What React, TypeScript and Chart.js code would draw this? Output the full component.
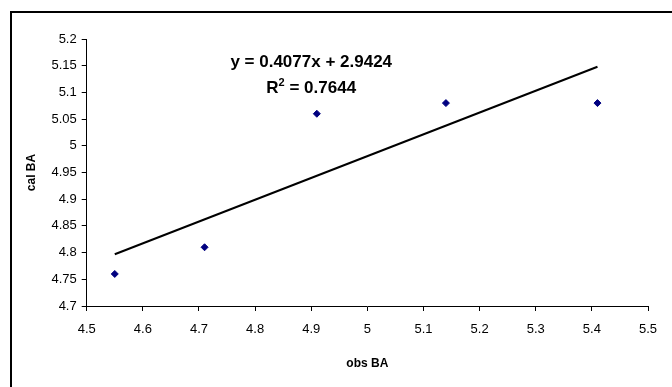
import React, { useEffect, useRef } from "react";
import { Chart, registerables } from "chart.js";

Chart.register(...registerables);

const obsBA = [4.55, 4.71, 4.91, 5.14, 5.41];
const calBA = [4.76, 4.81, 5.06, 5.08, 5.08];
const trendX = [4.55, 5.41];
const trendY = [4.797, 5.148];
const equationText = "y = 0.4077x + 2.9424";
const r2Value = " = 0.7644";
const xTitle = "obs BA";
const yTitle = "cal BA";

const FONT = "'Liberation Sans', Arial, sans-serif";

const annotationPlugin = {
  id: "eqnLabels",
  afterDraw(chart: any) {
    const { ctx, scales } = chart;
    const cx = scales.x.getPixelForValue(4.9);
    const y1 = scales.y.getPixelForValue(5.157);
    const y2 = scales.y.getPixelForValue(5.107);
    ctx.save();
    ctx.fillStyle = "#000";
    ctx.textBaseline = "middle";
    ctx.font = `bold 17px ${FONT}`;
    ctx.textAlign = "center";
    ctx.fillText(equationText, cx, y1);
    const wR = ctx.measureText("R").width;
    const wRest = ctx.measureText(r2Value).width;
    ctx.font = `bold 11px ${FONT}`;
    const w2 = ctx.measureText("2").width;
    const total = wR + w2 + wRest;
    let x = cx - total / 2;
    ctx.textAlign = "left";
    ctx.font = `bold 17px ${FONT}`;
    ctx.fillText("R", x, y2);
    x += wR;
    ctx.font = `bold 11px ${FONT}`;
    ctx.fillText("2", x, y2 - 6);
    x += w2;
    ctx.font = `bold 17px ${FONT}`;
    ctx.fillText(r2Value, x, y2);
    ctx.restore();
  },
};

export default function App() {
  const ref = useRef<HTMLCanvasElement | null>(null);
  useEffect(() => {
    if (!ref.current) return;
    const chart = new Chart(ref.current, {
      type: "scatter",
      data: {
        datasets: [
          {
            label: "data",
            data: obsBA.map((x, i) => ({ x, y: calBA[i] })),
            pointStyle: "rectRot",
            pointRadius: 3.5,
            backgroundColor: "#000080",
            borderColor: "#000080",
            borderWidth: 1,
          },
          {
            type: "line",
            label: "trend",
            data: trendX.map((x, i) => ({ x, y: trendY[i] })),
            borderColor: "#000",
            borderWidth: 2,
            pointRadius: 0,
            fill: false,
          } as any,
        ],
      },
      options: {
        responsive: false,
        animation: false,
        layout: { padding: { left: 24, right: 24, top: 39, bottom: 8 } },
        plugins: { legend: { display: false }, tooltip: { enabled: false } },
        scales: {
          x: {
            type: "linear",
            min: 4.5,
            max: 5.5,
            ticks: {
              stepSize: 0.1,
              color: "#000",
              padding: 11,
              font: { family: FONT, size: 13 },
              callback: (v: any) => String(Number(Number(v).toFixed(2))),
            },
            grid: {
              drawOnChartArea: false,
              color: "#000",
              tickLength: 5,
            },
            border: { color: "#000", width: 1 },
            title: {
              display: true,
              text: xTitle,
              color: "#000",
              font: { family: FONT, size: 12, weight: "bold" },
              padding: { top: 8, bottom: 8 },
            },
          },
          y: {
            type: "linear",
            min: 4.7,
            max: 5.2,
            ticks: {
              stepSize: 0.05,
              color: "#000",
              padding: 5,
              font: { family: FONT, size: 13 },
              callback: (v: any) => String(Number(Number(v).toFixed(2))),
            },
            grid: {
              drawOnChartArea: false,
              color: "#000",
              tickLength: 5,
            },
            border: { color: "#000", width: 1 },
            title: {
              display: true,
              text: yTitle,
              color: "#000",
              font: { family: FONT, size: 12, weight: "bold" },
              padding: { top: 0, bottom: 8 },
            },
          },
        },
      },
      plugins: [annotationPlugin],
    });
    return () => chart.destroy();
  }, []);
  return (
    <div style={{ position: "absolute", left: 0, top: 0, width: 672, height: 387, background: "#fff", overflow: "hidden" }}>
      <div
        style={{
          position: "absolute",
          left: 10,
          top: 11,
          width: 700,
          height: 400,
          borderTop: "2px solid #000",
          borderLeft: "2px solid #000",
        }}
      />
      <canvas ref={ref} width={672} height={387} style={{ position: "absolute", left: 0, top: 0 }} />
    </div>
  );
}
